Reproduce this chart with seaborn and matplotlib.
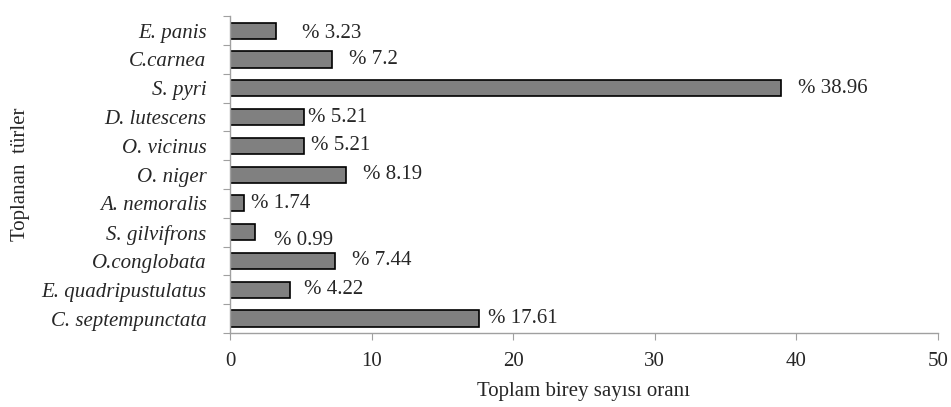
import matplotlib
matplotlib.use("Agg")
from matplotlib import pyplot as plt
import seaborn as sns
import pandas as pd

# species, top to bottom as in the chart
species = ["E. panis", "C.carnea", "S. pyri", "D. lutescens", "O. vicinus",
           "O. niger", "A. nemoralis", "S. gilvifrons", "O.conglobata",
           "E. quadripustulatus", "C. septempunctata"]
# bar lengths as drawn in the original
bar_values = [3.23, 7.2, 38.96, 5.21, 5.21, 8.19, 0.99, 1.74, 7.44, 4.22, 17.61]
# data labels as printed in the original
label_values = ["3.23", "7.2", "38.96", "5.21", "5.21", "8.19", "1.74", "0.99",
                "7.44", "4.22", "17.61"]

df = pd.DataFrame({"species": species, "value": bar_values})

sns.set_style("white")
plt.rcParams["font.family"] = ["Liberation Serif", "DejaVu Serif"]
FS = 15

fig, ax = plt.subplots(figsize=(9.51, 4.07), dpi=100)
fig.subplots_adjust(left=0.242, right=0.986, top=0.96, bottom=0.182)

sns.barplot(data=df, x="value", y="species", orient="h", color="#808080",
            saturation=1, width=0.56, edgecolor="black", linewidth=1.2, ax=ax)

# label offsets (points) - data labels were nudged by hand in the source
dx = [19, 12, 12, 3, 5, 12, 5, 14, 12, 10, 6]
dy = [-2, 0, 0, 0, 0, 0, 0, -6, 0, 0, 0]
for i, (v, lab) in enumerate(zip(bar_values, label_values)):
    ax.annotate(f"% {lab}", xy=(v, i), xytext=(dx[i], dy[i]),
                textcoords="offset points", va="center", ha="left", fontsize=FS)

ax.set_xlim(0, 50)
ax.set_ylim(len(species) - 0.5, -0.5)
ax.set_xticks([0, 10, 20, 30, 40, 50])
ax.set_yticks([i - 0.5 for i in range(len(species) + 1)], minor=False)
ax.set_yticklabels([])
ax.set_yticks(range(len(species)), minor=True)
ax.set_yticklabels(species, minor=True, style="italic", fontsize=FS)
ax.tick_params(axis="y", which="minor", length=0, pad=17)
ax.tick_params(axis="y", which="major", length=5, color="#a0a0a0", direction="out", left=True)
ax.tick_params(axis="x", length=5, color="#a0a0a0", direction="out", bottom=True,
               labelsize=FS, pad=9)

for side in ["top", "right"]:
    ax.spines[side].set_visible(False)
for side in ["left", "bottom"]:
    ax.spines[side].set_color("#a0a0a0")
    ax.spines[side].set_linewidth(1)

ax.set_xlabel("Toplam birey sayısı oranı", fontsize=FS, labelpad=8)
ax.set_ylabel("Toplanan  türler", fontsize=FS, labelpad=8)

plt.savefig("out.png", dpi=100)
